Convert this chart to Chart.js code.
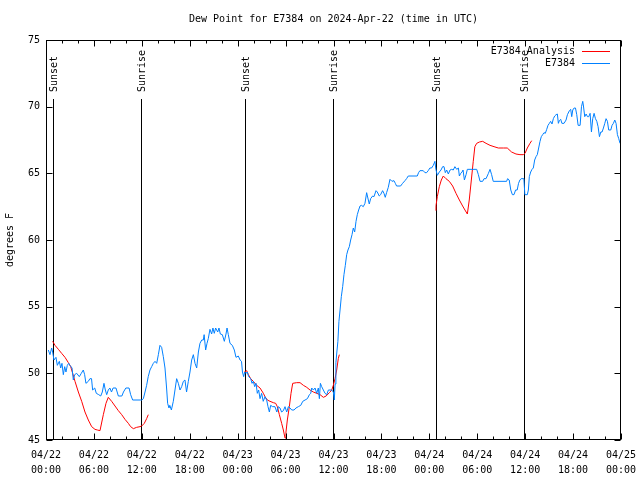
<!DOCTYPE html>
<html>
<head>
<meta charset="utf-8">
<script src="https://cdn.jsdelivr.net/npm/chart.js@4.4.1/dist/chart.umd.min.js"></script>
<style>
  html, body { margin: 0; padding: 0; background: #fff; }
</style>
</head>
<body>
<canvas id="dewChart" width="640" height="480"></canvas>
<script>
/*
*Chart values (hours since 04/22 00:00 UTC, dew point in F)
*/
const titleText = 'Dew Point for E7384 on 2024-Apr-22 (time in UTC)';
const seriesNames = ['E7384 Analysis', 'E7384'];

const tickHours = [0, 6, 12, 18, 24, 30, 36, 42, 48, 54, 60, 66, 72];
const tickDates = ['04/22', '04/22', '04/22', '04/22', '04/23', '04/23', '04/23', '04/23', '04/24', '04/24', '04/24', '04/24', '04/25'];
const tickTimes = ['00:00', '06:00', '12:00', '18:00', '00:00', '06:00', '12:00', '18:00', '00:00', '06:00', '12:00', '18:00', '00:00'];
const yTicks = [45, 50, 55, 60, 65, 70, 75];

const eventHours = [0.9, 11.95, 24.9, 35.9, 48.85, 59.85];
const eventNames = ['Sunset', 'Sunrise', 'Sunset', 'Sunrise', 'Sunset', 'Sunrise'];

// analysis, one piece per night (null = gap)
const analysisHours = [
  0.83, 1.13, 1.55, 1.96, 2.38, 2.8, 3.09, 3.34, 3.63, 4.05, 4.47, 4.88, 5.3, 5.72, 6.13, 6.43, 6.76,
  7.18, 7.51, 7.8, 8.22, 8.64, 9.06, 9.48, 9.89, 10.31, 10.6, 10.94, 11.35, 11.77, 11.98, 12.31, 12.6, 12.81,
  18,
  24.83, 25.13, 25.34, 25.63, 25.96, 26.38, 26.8, 27.22, 27.42, 27.72, 28.05, 28.47, 28.76, 28.97, 29.22,
  29.51, 29.72, 29.93, 30.05, 30.22, 30.47, 30.68, 30.89, 31.39, 31.81, 32.23, 32.65, 33.06, 33.48, 33.9,
  34.32, 34.73, 35.07, 35.49, 35.78, 35.98, 36.19, 36.4, 36.6, 36.73,
  42,
  48.83, 48.84, 49.0, 49.25, 49.5, 49.75, 50.08, 50.5, 50.92, 51.34, 51.76, 52.17, 52.46, 52.76, 53.0,
  53.26, 53.5, 53.7, 53.93, 54.27, 54.68, 55.1, 55.6, 56.1, 56.64, 57.3, 57.76, 58.3, 58.85, 59.35,
  59.77, 59.98, 60.27, 60.6, 60.82
];
const analysisDewPoint = [
  52.4, 52.1, 51.8, 51.5, 51.2, 50.8, 50.5, 50.0, 49.4, 48.6, 47.9, 47.1, 46.5, 46.0, 45.8, 45.75, 45.7,
  46.9, 47.75, 48.2, 47.9, 47.55, 47.2, 46.9, 46.55, 46.25, 46.0, 45.85, 45.95, 46.0, 46.05, 46.25, 46.6, 46.9,
  null,
  50.1, 50.2, 49.9, 49.6, 49.4, 49.1, 48.9, 48.5, 48.25, 48.0, 47.9, 47.8, 47.75, 47.5, 46.9,
  46.25, 45.75, 45.15, 45.6, 46.5, 47.5, 48.5, 49.25, 49.3, 49.3, 49.1, 48.95, 48.75, 48.6, 48.5,
  48.4, 48.2, 48.3, 48.55, 48.75, 49.1, 49.6, 50.25, 51.1, 51.4,
  null,
  62.2, 62.6, 63.25, 64.0, 64.5, 64.8, 64.6, 64.4, 64.05, 63.5, 63.0, 62.55, 62.25, 61.95, 63.0,
  64.5, 65.9, 67.0, 67.25, 67.35, 67.4, 67.25, 67.1, 67.0, 66.9, 66.9, 66.9, 66.6, 66.45, 66.4,
  66.4, 66.5, 66.9, 67.25, 67.45
];

// station observations
const obsHours = [
  0.29, 0.5, 0.71, 0.83, 1.0, 1.25, 1.42, 1.67, 1.84, 2.0, 2.17, 2.34, 2.5, 2.67, 2.84, 3.0, 3.26, 3.42,
  3.59, 3.84, 4.17, 4.42, 4.67, 4.84, 5.0, 5.3, 5.5, 5.7, 5.84, 6.1, 6.3, 6.6, 6.85, 7.05, 7.26, 7.43,
  7.6, 7.8, 8.0, 8.2, 8.4, 8.76, 9.06, 9.5, 9.7, 10.0, 10.4, 10.6, 10.85, 11.8, 12.0,
  12.19, 12.4, 12.6, 12.8, 13.02, 13.23, 13.44, 13.65, 13.86, 14.07, 14.27, 14.48, 14.69, 14.9, 15.1,
  15.23, 15.4, 15.5, 15.7, 15.94, 16.15, 16.36, 16.57, 16.78, 16.99, 17.2, 17.4, 17.6, 17.82, 18.03,
  18.24, 18.45, 18.66, 18.87, 19.08, 19.28, 19.5, 19.7, 19.8, 19.99, 20.16, 20.32, 20.53, 20.74, 20.9,
  21.07, 21.24, 21.5, 21.66, 21.83, 22.08, 22.33, 22.54, 22.67, 22.83, 23.04, 23.33, 23.58, 23.79,
  24.08, 24.3, 24.48, 24.6, 24.75, 24.88, 25.04, 25.2, 25.38, 25.63, 25.8, 25.96, 26.13, 26.3, 26.46,
  26.63, 26.8, 27.0, 27.2, 27.42, 27.63, 27.8, 27.97, 28.13, 28.38, 28.67, 28.9, 29.1, 29.3, 29.5,
  29.72, 29.93, 30.14, 30.35, 30.56, 30.77, 31.06, 31.3, 31.6, 31.9, 32.15, 32.44, 32.73, 32.98, 33.15,
  33.27, 33.48, 33.69, 33.9, 34.1, 34.23, 34.36, 34.52, 34.73, 34.94, 35.15, 35.36, 35.57, 35.77, 35.98,
  36.1, 36.2, 36.3, 36.42, 36.55, 36.68, 36.82, 36.98, 37.15, 37.31, 37.48, 37.65, 37.81, 37.98, 38.15,
  38.32, 38.48, 38.65, 38.82, 38.98, 39.15, 39.32, 39.5, 39.73, 39.94, 40.15, 40.36, 40.48, 40.65, 40.9,
  41.07, 41.32, 41.48, 41.73, 41.9, 42.15, 42.32, 42.48, 42.65, 42.86, 43.07, 43.32, 43.57, 43.74, 43.9,
  44.4, 44.65, 44.95, 45.15, 45.36, 46.49, 46.65, 46.82, 47.24, 47.45, 47.66, 47.86, 48.07, 48.28, 48.5,
  48.7, 48.82, 49.0, 49.25, 49.46, 49.67, 49.84, 50.0, 50.17, 50.38, 50.59, 50.8, 51.0, 51.2, 51.43,
  51.64, 51.76, 51.93, 52.1, 52.22, 52.39, 52.6, 52.76, 53.93, 54.14, 54.35, 54.68, 54.85, 55.1, 55.4,
  55.6, 55.8, 56.0, 57.68, 57.8, 58.0, 58.2, 58.4, 58.6, 58.8, 59.0, 59.17, 59.34, 59.5, 59.84,
  59.96, 60.27, 60.4, 60.52, 60.69, 60.86, 61.02, 61.19, 61.36, 61.52, 61.69, 61.86, 62.02, 62.19, 62.36,
  62.52, 62.7, 62.86, 63.03, 63.19, 63.36, 63.53, 63.7, 63.87, 64.03, 64.16, 64.28, 64.45, 64.6, 64.87,
  65.12, 65.29, 65.54, 65.7, 65.83, 65.96, 66.13, 66.3, 66.46, 66.63, 66.88, 67.05, 67.21, 67.3, 67.46,
  67.63, 67.8, 67.96, 68.13, 68.3, 68.46, 68.63, 68.8, 68.97, 69.13, 69.3, 69.47, 69.63, 69.8, 69.97,
  70.13, 70.3, 70.46, 70.72, 70.88, 71.05, 71.22, 71.38, 71.55, 71.72, 71.88
];
const obsDewPoint = [
  51.75, 51.4, 51.9, 51.6, 51.0, 51.2, 50.6, 50.9, 50.4, 50.75, 49.9, 50.5, 50.1, 50.6, 50.75, 50.6, 50.4, 49.5,
  49.9, 50.0, 49.75, 50.0, 50.25, 49.9, 49.25, 49.4, 49.6, 49.6, 48.75, 48.9, 48.5, 48.4, 48.3, 48.6, 49.25, 48.75,
  48.4, 48.75, 48.9, 48.6, 48.9, 48.9, 48.3, 48.3, 48.6, 48.9, 48.9, 48.4, 48.0, 48.0, 48.0,
  48.1, 48.6, 49.1, 49.75, 50.25, 50.5, 50.75, 50.9, 50.75, 51.4, 52.1, 51.95, 51.25, 50.4, 48.9,
  47.75, 47.4, 47.6, 47.25, 47.9, 48.75, 49.6, 49.25, 48.75, 49.0, 49.4, 49.5, 48.6, 49.4, 50.1,
  51.0, 51.4, 50.75, 50.4, 51.6, 52.25, 52.5, 52.5, 52.9, 51.75, 52.25, 52.6, 53.3, 52.95, 53.4,
  53.0, 53.4, 53.1, 53.4, 52.95, 52.9, 52.4, 52.95, 53.4, 52.9, 52.25, 52.1, 51.75, 51.2,
  51.3, 51.0, 50.9, 50.1, 49.75, 50.1, 50.0, 50.1, 49.75, 49.6, 49.25, 49.4, 49.0, 49.25, 48.5,
  48.75, 48.1, 48.5, 47.9, 48.25, 48.0, 47.5, 47.1, 47.6, 47.5, 47.5, 47.1, 47.5, 47.4, 47.1,
  47.2, 47.5, 47.1, 47.5, 47.4, 47.25, 47.25, 47.4, 47.5, 47.6, 47.9, 48.0, 48.1, 48.4, 48.5,
  48.9, 48.75, 48.9, 48.5, 48.9, 48.1, 49.25, 49.0, 48.75, 48.5, 48.4, 48.75, 48.75, 48.75, 48.6,
  48.0, 49.2, 50.8, 51.6, 52.4, 53.9, 54.75, 55.75, 56.5, 57.4, 58.1, 58.9, 59.25, 59.5, 60.0,
  60.4, 60.9, 60.6, 61.4, 61.9, 62.25, 62.55, 62.6, 62.5, 62.75, 63.55, 63.0, 62.7, 63.1, 63.3,
  63.25, 63.7, 63.6, 63.3, 63.4, 63.7, 63.5, 63.2, 63.55, 63.95, 64.55, 64.4, 64.45, 64.25, 64.05,
  64.05, 64.25, 64.45, 64.6, 64.8, 64.8, 65.05, 65.2, 65.2, 65.05, 65.05, 65.2, 65.4, 65.4, 65.6,
  65.9, 65.3, 64.85, 65.1, 65.25, 65.5, 65.5, 65.05, 65.25, 64.95, 65.25, 65.3, 65.25, 65.5, 65.3,
  65.4, 64.8, 65.0, 65.1, 65.25, 64.5, 64.9, 65.3, 65.3, 64.9, 64.4, 64.4, 64.6, 64.6, 65.0,
  65.3, 64.9, 64.4, 64.4, 64.6, 64.5, 63.75, 63.4, 63.4, 63.75, 63.75, 64.25, 64.5, 64.6, 64.6,
  63.4, 63.4, 63.75, 64.75, 65.1, 65.3, 65.4, 66.0, 66.25, 66.4, 66.9, 67.4, 67.75, 67.9, 68.05,
  68.0, 68.3, 68.6, 68.75, 68.9, 68.7, 69.1, 69.3, 69.4, 69.45, 68.75, 68.95, 69.05, 68.75, 68.75,
  69.0, 69.4, 69.7, 69.8, 69.25, 69.75, 69.9, 69.9, 69.4, 68.6, 68.6, 70.0, 70.4, 70.05, 69.25,
  69.45, 69.25, 69.25, 69.5, 68.1, 69.1, 69.5, 69.1, 68.9, 68.5, 67.75, 68.1, 68.1, 68.4, 68.75,
  69.1, 68.9, 68.25, 68.25, 68.6, 68.75, 69.0, 68.75, 67.9, 67.6, 67.25
];

const colors = {
  ANALYSIS: 'rgb(255, 0, 0)',
  OBS: 'rgb(0, 128, 255)',
  INK: '#000'
};
const monoFont = { family: "'DejaVu Sans Mono', monospace", size: 10 };
const fontCss = "10px 'DejaVu Sans Mono', monospace";

function toPoints(xs, ys) {
  return xs.map((h, i) => ({ x: h, y: ys[i] }));
}

/*
*Frame, inward tics, sunrise/sunset markers, title and legend
*/
const gnuplotLook = {
  id: 'gnuplotLook',
  beforeDatasetsDraw(chart) {
    const { ctx, chartArea: a, scales: { x } } = chart;
    ctx.save();
    ctx.fillStyle = colors.INK;
    ctx.font = fontCss;
    ctx.textBaseline = 'middle';
    ctx.textAlign = 'left';
    eventHours.forEach((h, i) => {
      const px = Math.round(x.getPixelForValue(h));
      ctx.fillRect(px, a.top + 59, 1, a.bottom - a.top - 59);
      ctx.save();
      ctx.translate(px + 1, a.top + 52);
      ctx.rotate(-Math.PI / 2);
      ctx.fillText(eventNames[i], 0, 0);
      ctx.restore();
    });
    ctx.restore();
  },
  afterDraw(chart) {
    const { ctx, chartArea: a, scales: { x, y } } = chart;
    ctx.save();
    ctx.strokeStyle = colors.INK;
    ctx.lineWidth = 1;
    const L = a.left + 0.5, R = a.right - 0.5, T = a.top + 0.5, B = a.bottom - 0.5;
    ctx.strokeRect(L, T, R - L, B - T);
    ctx.beginPath();
    for (let h = 0; h <= 72; h += 2) {
      const px = Math.round(x.getPixelForValue(h)) + 0.5;
      const len = h % 6 === 0 ? 6 : 3;
      ctx.moveTo(px, B); ctx.lineTo(px, B - len);
      ctx.moveTo(px, T); ctx.lineTo(px, T + len);
    }
    yTicks.forEach(v => {
      const py = Math.round(y.getPixelForValue(v)) + 0.5;
      ctx.moveTo(L, py); ctx.lineTo(L + 6, py);
      ctx.moveTo(R, py); ctx.lineTo(R - 6, py);
    });
    ctx.stroke();

    ctx.font = fontCss;
    ctx.fillStyle = colors.INK;
    ctx.textBaseline = 'middle';
    ctx.textAlign = 'center';
    ctx.fillText(titleText, (a.left + a.right) / 2, 19);

    // legend: text right aligned, sample line to the right
    const sampleColors = [colors.ANALYSIS, colors.OBS];
    ctx.textAlign = 'right';
    for (let i = 0; i < seriesNames.length; i++) {
      const ly = a.top + 11 + i * 12;
      ctx.fillStyle = colors.INK;
      ctx.fillText(seriesNames[i], a.right - 46, ly);
      ctx.fillStyle = sampleColors[i];
      ctx.fillRect(a.right - 39, Math.round(ly), 28, 1);
    }
    ctx.restore();
  }
};

const ctx = document.getElementById('dewChart').getContext('2d');
const dewChart = new Chart(ctx, {
  type: 'line',
  data: {
    datasets: [{
      label: seriesNames[1],
      data: toPoints(obsHours, obsDewPoint),
      borderColor: colors.OBS,
      order: 0
    }, {
      label: seriesNames[0],
      data: toPoints(analysisHours, analysisDewPoint),
      borderColor: colors.ANALYSIS,
      spanGaps: false,
      order: 1
    }]
  },
  options: {
    responsive: false,
    animation: false,
    devicePixelRatio: 1,
    layout: { padding: { top: 40, right: 19, left: 0, bottom: 0 } },
    elements: {
      point: { radius: 0 },
      line: { borderWidth: 1, tension: 0, fill: false }
    },
    plugins: {
      legend: { display: false },
      tooltip: { enabled: false },
      title: { display: false }
    },
    scales: {
      x: {
        type: 'linear',
        min: 0,
        max: 72,
        afterBuildTicks: scale => { scale.ticks = tickHours.map(v => ({ value: v })); },
        afterFit: scale => {
          scale.height = 40;
          scale.paddingLeft = 0;
          scale.paddingRight = 0;
        },
        grid: { display: false, drawTicks: false, tickLength: 0 },
        border: { display: false },
        ticks: {
          autoSkip: false,
          maxRotation: 0,
          padding: 8,
          color: colors.INK,
          font: { family: monoFont.family, size: 10, lineHeight: 1.5 },
          callback: value => {
            const i = tickHours.indexOf(value);
            return i < 0 ? '' : [tickDates[i], tickTimes[i]];
          }
        }
      },
      y: {
        min: 45,
        max: 75,
        afterBuildTicks: scale => { scale.ticks = yTicks.map(v => ({ value: v })); },
        afterFit: scale => { scale.width = 46; },
        grid: { display: false, drawTicks: false, tickLength: 0 },
        border: { display: false },
        ticks: { padding: 6, color: colors.INK, font: monoFont },
        title: { display: true, text: 'degrees F', color: colors.INK, font: monoFont, padding: { top: 4 } }
      }
    }
  },
  plugins: [gnuplotLook]
});
</script>
</body>
</html>
